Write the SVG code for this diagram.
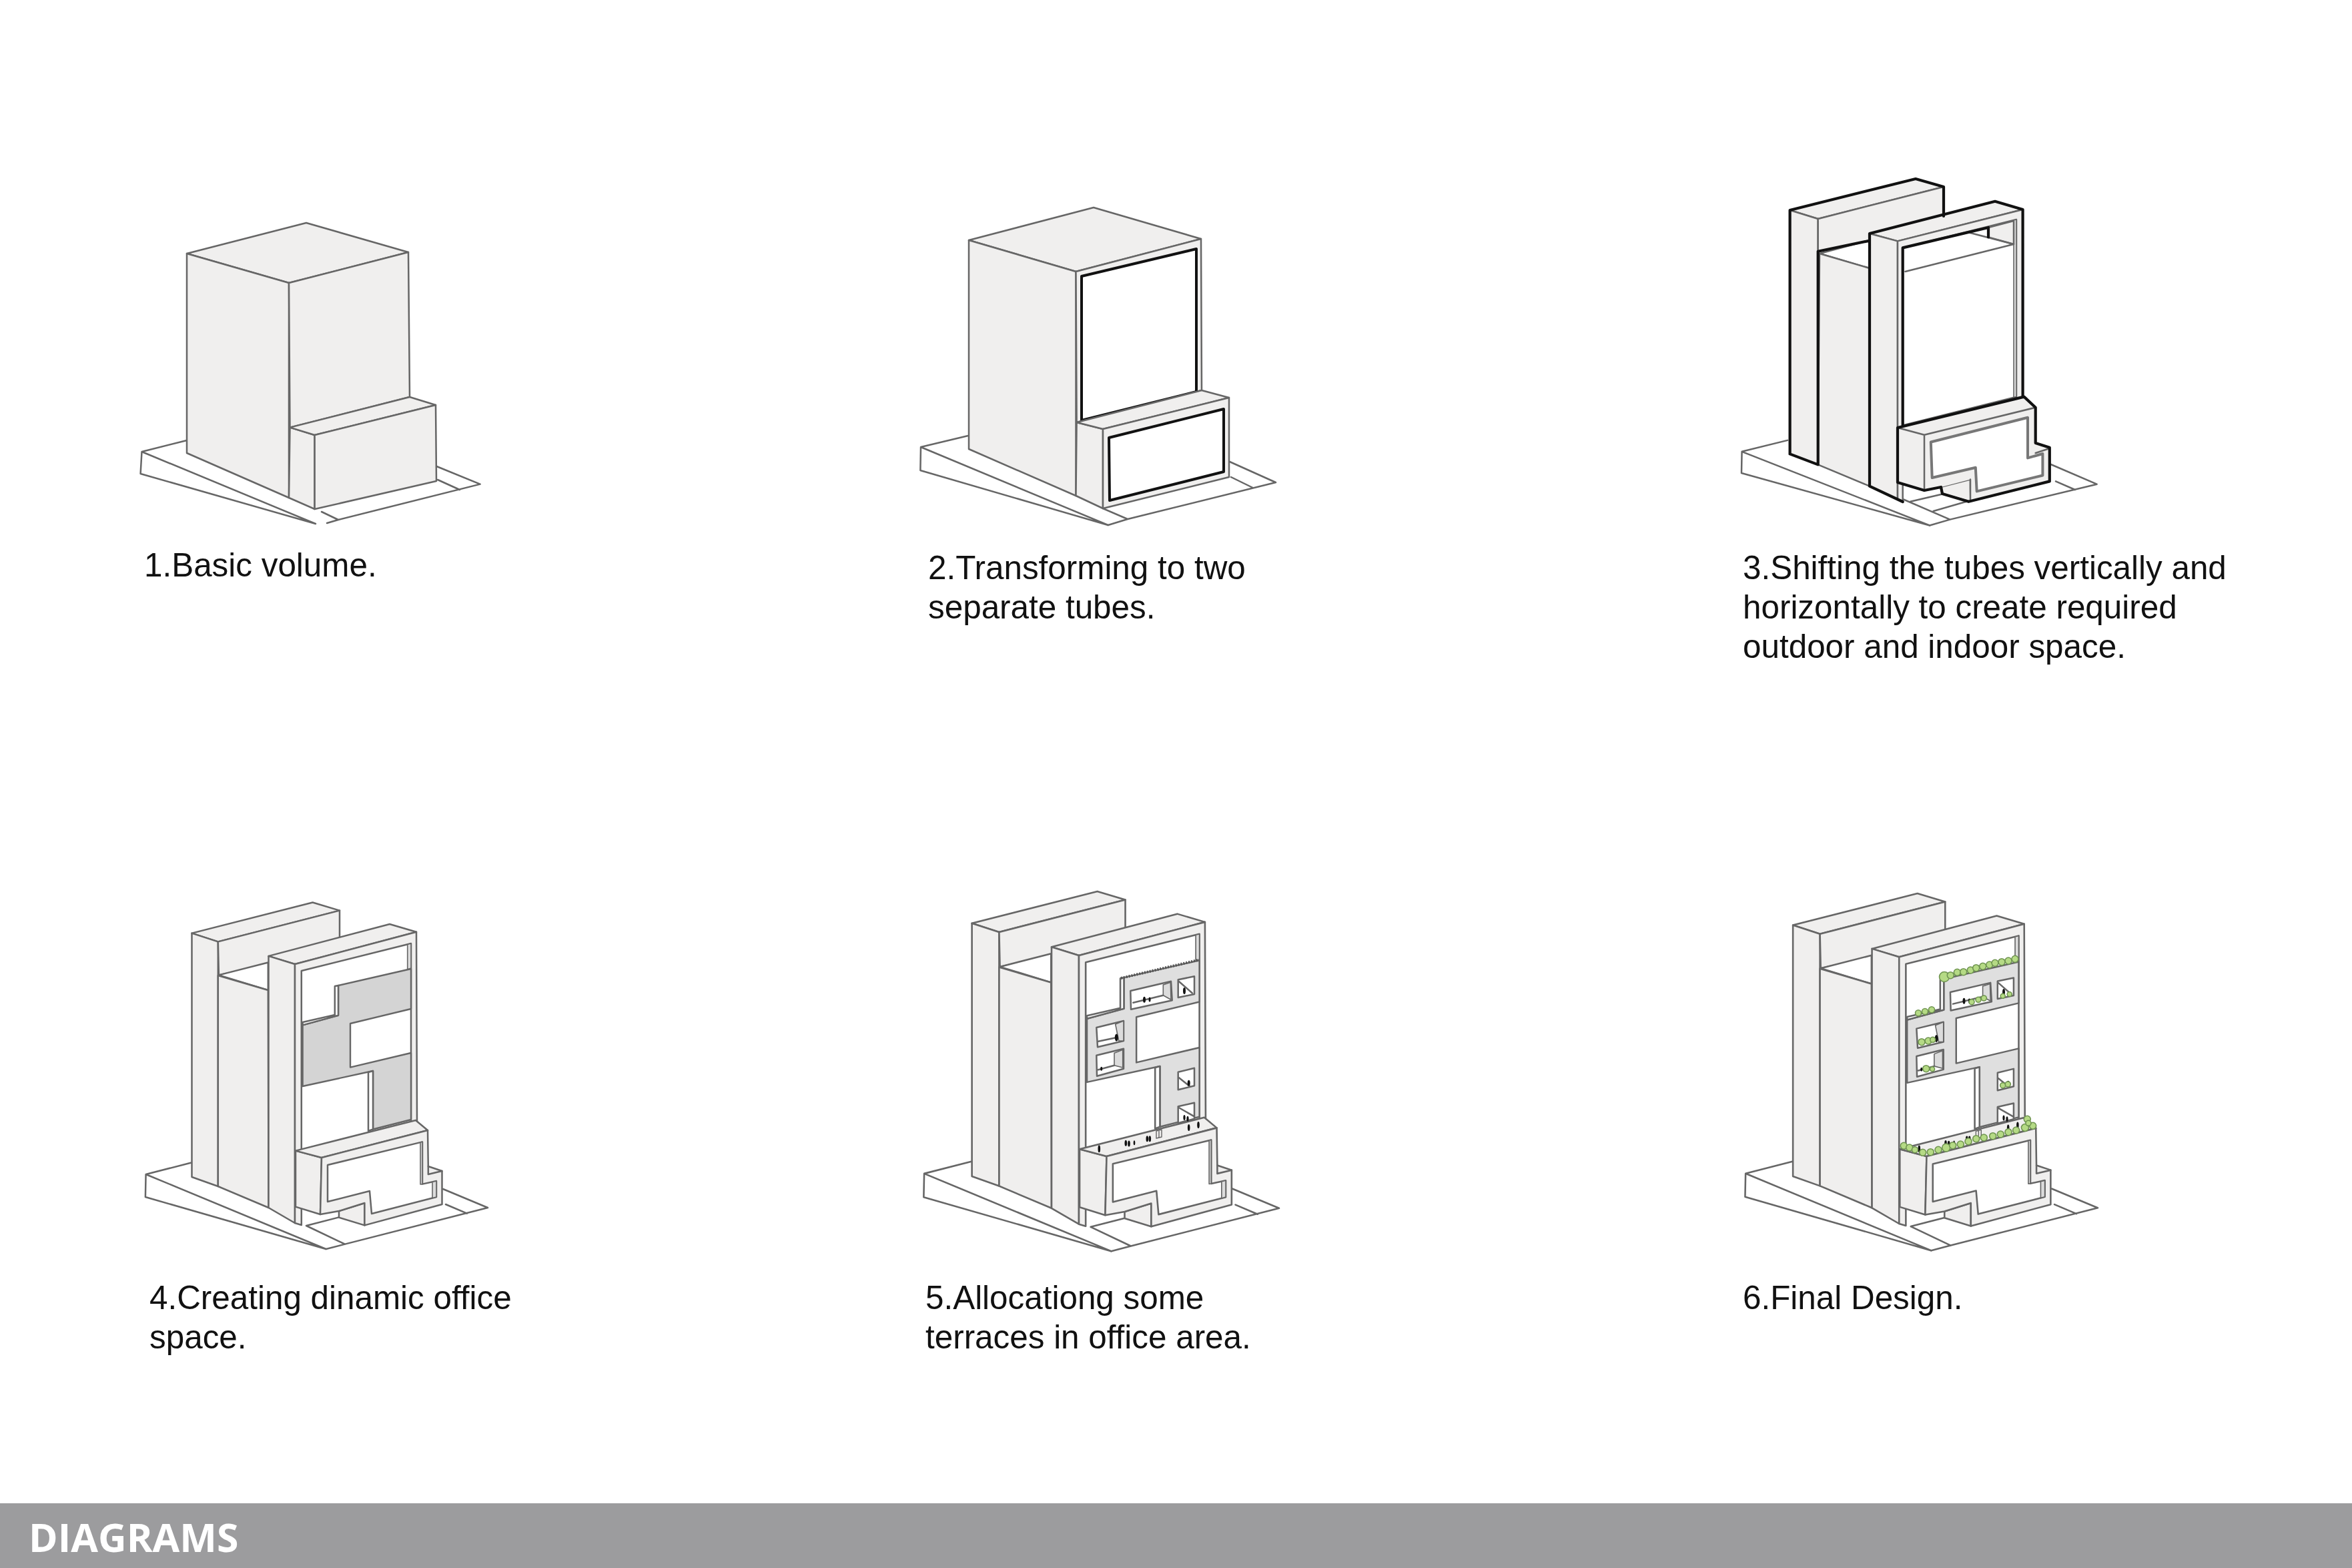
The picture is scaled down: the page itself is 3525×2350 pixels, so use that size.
<svg xmlns="http://www.w3.org/2000/svg" xmlns:xlink="http://www.w3.org/1999/xlink" width="3525" height="2350" viewBox="0 0 3525 2350">
<style>
.l{fill:none;stroke:#666;stroke-width:2.5;stroke-linejoin:round;stroke-linecap:round}
.f{fill:#f0efee;stroke:#666;stroke-width:2.5;stroke-linejoin:round}
.n{fill:#f0efee;stroke:none}
.w{fill:#fff;stroke:#666;stroke-width:2.5;stroke-linejoin:round}
.r{fill:#dcdcdc;stroke:#666;stroke-width:1.6;stroke-linejoin:round}
.kw{fill:#fff;stroke:#111;stroke-width:4;stroke-linejoin:round}
.k{fill:none;stroke:#111;stroke-width:4.2;stroke-linejoin:round;stroke-linecap:round}
.p{fill:#111}
.g{fill:#b5da85;stroke:#6f9450;stroke-width:1.6}
.t{font-family:"Liberation Sans",Arial,sans-serif;font-size:49.4px;fill:#111}
.h{font-family:"Open Sans","Noto Sans",sans-serif;font-weight:700;font-size:59px;fill:#fff}
</style>
<defs>
<g id="tower">
<path class="w" d="M286.8,1742.5L218.6,1760L217.9,1794L488.6,1872L218.6,1760"/>
<path class="l" d="M488.6,1872L517,1864.6L731,1810L664,1782M459,1837L517,1864.6M668,1805L700,1818.6M459,1837L507,1824.6"/>
<path class="f" d="M287.5,1398.6L468.6,1352.5L509,1364.6L326.8,1411.4Z"/>
<path class="f" d="M287.5,1398.6L326.8,1411.4L326.8,1778L287.5,1764Z"/>
<path class="f" d="M326.8,1411.4L509,1364.6L509,1410L402,1445L327.9,1461.4Z"/>
<path class="w" d="M327.9,1461.4L401.8,1442.5L401.8,1484Z"/>
<path class="f" d="M326.8,1462L401.8,1484L402.5,1810L326.8,1778Z"/>
<path class="f" d="M402.5,1432.9L584,1385L624,1396.8L442,1445Z"/>
<path class="f" d="M402.5,1432.9L442,1445L442,1833L402.5,1810Z"/>
<path class="f" d="M442,1445L624,1396.8L625,1680L451.8,1730L451.8,1836L442,1833Z"/>
<path class="w" d="M451.8,1455L616,1414L616,1682L451.8,1723Z"/>
<path class="r" d="M610.7,1415.5L616,1414L616,1451L610.7,1453Z"/>
</g>
<g id="podium">
<path class="f" d="M443,1724.6L482,1735L480,1820L443,1808.6Z"/>
<path class="f" d="M443,1724.6L623,1679L641,1694L482,1735Z"/>
<path class="f" d="M508,1815L546.4,1803L546.4,1836.4L508,1824.6Z"/>
<path class="f" d="M482,1735L641,1694L641.8,1748L662.5,1755L662.5,1805L546.4,1836.4L546.4,1803L508,1815L480,1820Z"/>
<path class="l" d="M641.8,1748L641.8,1760L662.5,1755"/>
<path class="w" d="M491,1746L633,1711.4L633,1774.6L654,1770L654,1794L557,1819L554,1785L491,1801Z"/>
<path class="r" d="M630,1712L633,1711.4L633,1774.6L630,1775Z"/>
<path class="r" d="M648,1771.5L654,1770L654,1794L648,1795.5Z"/>
</g>
<path id="face" d="M507,1477L616,1452L616,1512L525,1534L525,1599.6L616,1578L616,1678L559,1692.5L559,1605L453.6,1628L453.6,1536.4L507,1521.8Z" stroke="#666" stroke-width="2.4" stroke-linejoin="round"/>
<g id="bands">
<path class="w" d="M501.8,1478L507,1477L507,1521.8L453.6,1536.4L453.6,1532L501.8,1521Z"/>
<path class="w" d="M552,1607L559,1605L559,1692.5L552,1695Z"/>
</g>
<g id="terraces">
<path class="w" d="M1694.3,1485L1755,1470.7L1756.7,1499.3L1695,1512.7Z"/>
<path class="r" d="M1743.3,1476L1754.3,1472.3L1755,1498.3L1743.3,1491.7Z"/>
<path class="l" d="M1698.3,1502.7L1743.3,1491.7"/>
<path class="w" d="M1765.7,1468.3L1790,1463.3L1790,1490L1765.7,1495Z"/>
<path class="l" d="M1766.7,1470.7L1786.7,1488.3"/>
<path class="w" d="M1643.3,1540L1684,1530L1684,1560L1645,1569.3Z"/>
<path class="r" d="M1671.7,1535L1684,1530L1684,1560L1676.7,1560Z"/>
<path class="l" d="M1646,1560.7L1673.3,1555"/>
<path class="w" d="M1643.3,1581.7L1684,1571.7L1684,1601.7L1644,1612.7Z"/>
<path class="r" d="M1670,1578.3L1682.7,1573.3L1682.7,1600L1670,1596.7Z"/>
<path class="l" d="M1646,1603.3L1670,1596.7"/>
<path class="w" d="M1765.7,1606.7L1790,1600.7L1790,1627.3L1765.7,1633.3Z"/>
<path class="l" d="M1766.7,1615L1783.3,1628.3"/>
<path class="w" d="M1765.7,1658.3L1790,1652.7L1790,1676.7L1765.7,1683.3Z"/>
<path class="l" d="M1766.7,1660L1790,1673.3"/>
<ellipse class="p" cx="1775" cy="1485" rx="2" ry="5"/>
<ellipse class="p" cx="1715" cy="1498.3" rx="2" ry="4.5"/>
<ellipse class="p" cx="1723" cy="1498" rx="1.5" ry="3.5"/>
<ellipse class="p" cx="1673.3" cy="1555" rx="2.5" ry="5.5"/>
<ellipse class="p" cx="1650.7" cy="1601.7" rx="1.5" ry="3"/>
<ellipse class="p" cx="1781.7" cy="1623.3" rx="2" ry="4.5"/>
<ellipse class="p" cx="1775" cy="1675" rx="1.6" ry="4"/>
<ellipse class="p" cx="1780" cy="1676.7" rx="1.6" ry="4"/>
<ellipse class="p" cx="1647.3" cy="1721.7" rx="1.8" ry="5.5"/>
<ellipse class="p" cx="1687.3" cy="1713.3" rx="1.8" ry="4.5"/>
<ellipse class="p" cx="1692" cy="1714" rx="1.8" ry="4.5"/>
<ellipse class="p" cx="1700" cy="1712.7" rx="1.3" ry="3.5"/>
<ellipse class="p" cx="1719.3" cy="1706.7" rx="1.8" ry="4.5"/>
<ellipse class="p" cx="1723.3" cy="1706.7" rx="1.8" ry="4.5"/>
<ellipse class="p" cx="1781.7" cy="1690" rx="1.8" ry="5"/>
<ellipse class="p" cx="1796" cy="1686" rx="1.8" ry="5"/>
<path class="l" style="stroke-width:1.4" d="M1733,1695L1741,1693L1741,1704L1733,1706ZM1737,1694L1737,1705"/>
</g>
</defs>
<rect width="3525" height="2350" fill="#fff"/>

<g id="fig1">
<path class="w" d="M280,660L212.5,677L210.6,710L473,785L212.5,677"/>
<path class="l" d="M482,767L507,779L490,784M507,779L719.6,725.6L654.5,699M656,719L689,734"/>
<path class="f" d="M280,380L459,334L612,378L433,424Z"/>
<path class="f" d="M280,380L433,424L433,746L280,679Z"/>
<path class="f" d="M433,424L612,378L614,595L434.5,640.6Z"/>
<path class="f" d="M434.5,640.6L471.6,652L471.6,763L433,746Z"/>
<path class="f" d="M434.5,640.6L614,595L653,607L471.6,652Z"/>
<path class="f" d="M471.6,652L653,607L654,721L471.6,763Z"/>
<text class="t" x="216" y="864">1.Basic volume.</text>
</g>

<g id="fig2">
<path class="w" d="M1451,653L1380,670L1379.4,705L1660.7,787L1380,670"/>
<path class="l" d="M1660.7,787L1690,778L1912,723L1843,692M1653,762L1690,778M1845,715L1877.7,731"/>
<path class="f" d="M1452,360L1639,311L1800,358L1612.5,407Z"/>
<path class="f" d="M1452,360L1612.5,407L1612.5,743L1452,673Z"/>
<path class="f" d="M1612.5,407L1800,358L1801,585L1613.6,633Z"/>
<path class="kw" d="M1621,414L1793,373L1793,587L1621,630Z"/>
<path class="f" d="M1613.6,633L1653,643L1653,762L1612.5,743Z"/>
<path class="f" d="M1613.6,633L1801,585L1842,596L1653,643Z"/>
<path class="f" d="M1653,643L1842,596L1842,715L1653,762Z"/>
<path class="kw" d="M1662,656L1834,613L1834,707L1663,750Z"/>
<text class="t" x="1391" y="868">2.Transforming to two</text>
<text class="t" x="1391" y="927">separate tubes.</text>
</g>

<g id="fig3">
<path class="w" d="M2680,659.6L2610.6,676.8L2610,709L2892,787.5L2610.6,676.8"/>
<path class="l" d="M2892,787.5L2922.5,778.6L3142.6,725.7L3073.7,696M2851.7,748L2922.5,778.6M3081,721.4L3110,734M2863,751.8L2909,741M2897.6,766L2947,751.8"/>
<path class="f" d="M2682.6,315L2871,268L2913,280L2724.7,328Z"/>
<path class="f" d="M2682.6,315L2724.7,328L2724.7,696.4L2682.6,680.4Z"/>
<path class="f" d="M2724.7,328L2913,280L2913,335L2802,360.7L2724.7,376.8Z"/>
<path class="w" d="M2727,380L2802,360L2802,402Z"/>
<path class="f" d="M2727,380L2802,402L2802,728.6L2724.7,696.4Z"/>
<path class="f" d="M2802,350L2990,301.8L3031.6,314L2844,361.4Z"/>
<path class="f" d="M2802,350L2844,361.4L2844,748L2802,728.6Z"/>
<path class="f" d="M2844,361.4L3031.6,314L3031.6,596L2851.7,640L2851.7,752L2844,748Z"/>
<path class="w" d="M2851.7,371.4L3022,329L3022,594.6L2851.7,637.5Z"/>
<path class="r" d="M3018,330L3022,329L3022,594.6L3018,595.6Z"/>
<path class="f" d="M2980,341L3018,331L3018,366L2980,355.4Z"/>
<path class="l" d="M2949,348L3018,366L2855.5,407"/>
<path class="k" d="M2682.6,680.4L2682.6,315L2871,268L2913,280L2913,324M2724.7,376.8L2802,360.7M2724.7,376.8L2724.7,696.4L2682.6,680.4M2802,728.6L2802,350L2990,301.8L3031.6,314L3031.6,596M2802,728.6L2851.7,752M2851.7,637.5L2851.7,371.4L2980,341L2980,355.4"/>
<path class="f" d="M2908,730L2953,718.6L2953,751.8L2911,740Z"/>
<path class="n" d="M2844,641L3033.5,594.6L3050.7,610.7L3050.7,664L3071.8,670.7L3071.8,721.4L2950.4,751.8L2953,718.6L2909,730L2884,735L2844,723Z"/>
<path class="l" d="M2844,641L2884,651.8L3050.7,610.7M2884,651.8L2884,735M2953,718.6L2953,751.8M3050.7,679L3071.8,672"/>
<path class="k" d="M2844,723L2844,641L3033.5,594.6L3050.7,610.7L3050.7,664L3071.8,670.7L3071.8,721.4L2950.4,751.8L2911,740L2909,730L2884,735L2844,723Z"/>
<path class="w" style="stroke-width:4;stroke:#777" d="M2893.8,662.5L3039,625.7L3039,686.4L3061.4,680L3061.4,712.5L2962.7,736.4L2960.8,700.7L2895.7,716Z"/>
<text class="t" x="2612" y="868">3.Shifting the tubes vertically and</text>
<text class="t" x="2612" y="927">horizontally to create required</text>
<text class="t" x="2612" y="986">outdoor and indoor space.</text>
</g>

<g id="fig4">
<use xlink:href="#tower" href="#tower"/>
<use xlink:href="#face" href="#face" fill="#d4d4d4"/>
<use xlink:href="#bands" href="#bands"/>
<use xlink:href="#podium" href="#podium"/>
<text class="t" x="224" y="1962">4.Creating dinamic office</text>
<text class="t" x="224" y="2021">space.</text>
</g>

<g id="fig5">
<g transform="matrix(1.038 0 0 1.038 1158.2 -68)">
<use xlink:href="#tower" href="#tower"/>
<use xlink:href="#face" href="#face" fill="#dfdfdf"/>
<use xlink:href="#bands" href="#bands"/>
<use xlink:href="#podium" href="#podium"/>
</g>
<use xlink:href="#terraces" href="#terraces"/>
<path d="M1680,1466L1797,1438.5" stroke="#555" stroke-width="4" stroke-dasharray="2 2" fill="none"/>
<text class="t" x="1387" y="1962">5.Allocationg some</text>
<text class="t" x="1387" y="2021">terraces in office area.</text>
</g>

<g id="fig6">
<g transform="matrix(1.03 0 0 1.03 2391 -54)">
<use xlink:href="#tower" href="#tower"/>
<use xlink:href="#face" href="#face" fill="#dfdfdf"/>
<use xlink:href="#bands" href="#bands"/>
<use xlink:href="#podium" href="#podium"/>
</g>
<g transform="matrix(0.9923 0 0 0.9923 1241.7 13.48)"><use xlink:href="#terraces" href="#terraces"/></g>
<g id="plants">
<circle class="g" cx="2914" cy="1464" r="7.5"/><circle class="g" cx="2923.3" cy="1461.7" r="5"/><circle class="g" cx="2933.3" cy="1457.3" r="5"/><circle class="g" cx="2942.7" cy="1456.7" r="5"/><circle class="g" cx="2953.3" cy="1454" r="5"/><circle class="g" cx="2961.7" cy="1450.7" r="5"/><circle class="g" cx="2971.7" cy="1448.3" r="5"/><circle class="g" cx="2981.7" cy="1446" r="5"/><circle class="g" cx="2990" cy="1443.3" r="5"/><circle class="g" cx="3000" cy="1441.7" r="5"/><circle class="g" cx="3010" cy="1440" r="5"/><circle class="g" cx="3020" cy="1437.3" r="5"/>
<circle class="g" cx="2875" cy="1518.3" r="4.5"/><circle class="g" cx="2885" cy="1516" r="4.5"/><circle class="g" cx="2895" cy="1513.3" r="4.5"/>
<circle class="g" cx="2955" cy="1501.7" r="4"/><circle class="g" cx="2965" cy="1498.3" r="4"/><circle class="g" cx="2973.3" cy="1496" r="4"/>
<circle class="g" cx="3001.7" cy="1492.7" r="3.5"/><circle class="g" cx="3011.7" cy="1490" r="3.5"/>
<circle class="g" cx="2880" cy="1561.7" r="5"/><circle class="g" cx="2890" cy="1560" r="5"/><circle class="g" cx="2896.7" cy="1558.3" r="4"/>
<circle class="g" cx="2886.7" cy="1601.7" r="5"/><circle class="g" cx="2896" cy="1602.3" r="3.5"/>
<circle class="g" cx="3001.7" cy="1626.7" r="4"/><circle class="g" cx="3009.3" cy="1625" r="4"/>
<circle class="g" cx="2853.3" cy="1717.3" r="5"/><circle class="g" cx="2861.7" cy="1720" r="5"/><circle class="g" cx="2870" cy="1723.3" r="4.5"/><circle class="g" cx="2881.7" cy="1727.3" r="5"/><circle class="g" cx="2893.3" cy="1726.7" r="5"/><circle class="g" cx="2905" cy="1723.3" r="5"/><circle class="g" cx="2916.7" cy="1720" r="6"/><circle class="g" cx="2926.7" cy="1716.7" r="5"/><circle class="g" cx="2938.3" cy="1715" r="5"/><circle class="g" cx="2950" cy="1710.7" r="5"/><circle class="g" cx="2961.7" cy="1706.7" r="5"/><circle class="g" cx="2973.3" cy="1705" r="5"/><circle class="g" cx="2986.7" cy="1702.7" r="5"/><circle class="g" cx="2998.3" cy="1700" r="5"/><circle class="g" cx="3010" cy="1696.7" r="5"/><circle class="g" cx="3021.7" cy="1694" r="5"/><circle class="g" cx="3035" cy="1690" r="5.5"/><circle class="g" cx="3046.7" cy="1687.3" r="5"/><circle class="g" cx="3038.3" cy="1677.3" r="5"/><circle class="g" cx="3040" cy="1683.3" r="4"/>
</g>
<text class="t" x="2612" y="1962">6.Final Design.</text>
</g>

<g id="connectors"></g>

<g id="banner">
<rect x="0" y="2253" width="3525" height="97" fill="#9c9c9e"/>
<text class="h" x="43" y="2326">DIAGRAMS</text>
</g>
</svg>
